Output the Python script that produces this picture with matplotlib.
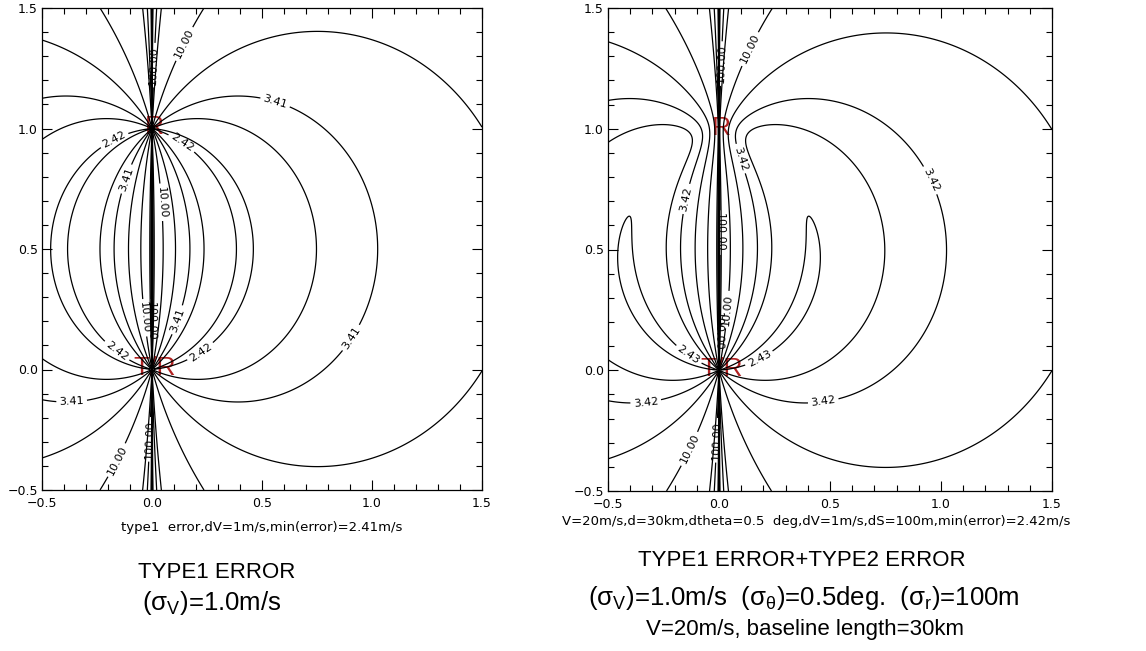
import matplotlib
import numpy as np

matplotlib.use("Agg")

import matplotlib.pyplot as plt
from matplotlib.ticker import MultipleLocator

plt.rcParams["font.family"] = ["DejaVu Sans"]
plt.rcParams["mathtext.fontset"] = "custom"
plt.rcParams["mathtext.rm"] = "Liberation Sans"
plt.rcParams["mathtext.it"] = "Liberation Sans:italic"

DV = 1.0            # Doppler velocity error, m/s
V = 20.0            # wind speed, m/s
BASELINE_KM = 30.0  # T/R -> R distance
DTHETA_DEG = 0.5    # azimuth error
DS_KM = 0.1         # range error (100 m)

STATIONS = [("T/R", 0.0, 0.0), ("R", 0.0, 1.0)]

# IDL labelled every other level
LEFT_LABELED = [2.424, 3.414, 10.0, 100.0]
LEFT_PLAIN = [2.814, 5.0, 50.0, 500.0, 1000.0]
RIGHT_LABELED = [2.43, 3.42, 10.0, 100.0]
RIGHT_PLAIN = [2.82, 5.0, 50.0, 500.0, 1000.0]

# approximate spots where the reference put its contour labels
LEFT_LABEL_SPOTS = [
    (0.14, 1.354), (0.003, 1.263), (0.56, 1.11), (-0.17, 0.95), (0.135, 0.94),
    (-0.115, 0.79), (0.044, 0.694), (-0.04, 0.214), (-0.002, 0.20), (0.112, 0.207),
    (0.218, 0.077), (-0.16, 0.077), (0.908, 0.13), (-0.365, -0.136),
    (-0.16, -0.376), (-0.005, -0.29),
]
RIGHT_LABEL_SPOTS = [
    (0.14, 1.33), (0.005, 1.27), (0.11, 0.88), (-0.15, 0.71), (0.96, 0.79),
    (0.002, 0.57), (0.05, 0.25), (-0.006, 0.16), (-0.14, 0.06), (0.18, 0.05),
    (-0.33, -0.13), (0.47, -0.13), (-0.145, -0.32), (-0.01, -0.29),
]

LEFT_XLABEL = "type1  error,dV=1m/s,min(error)=2.41m/s"
RIGHT_XLABEL = "V=20m/s,d=30km,dtheta=0.5  deg,dV=1m/s,dS=100m,min(error)=2.42m/s"

RED = "#b22222"


def error_field(xx, yy, with_type2):
    rx, ry = STATIONS[1][1] * BASELINE_KM, STATIONS[1][2] * BASELINE_KM
    px, py = xx * BASELINE_KM, yy * BASELINE_KM
    r_t = np.hypot(px, py)
    r_r = np.hypot(px - rx, py - ry)
    etx, ety = px / r_t, py / r_t
    erx, ery = (px - rx) / r_r, (py - ry) / r_r

    # monostatic row and bistatic (half-sum) row
    a, b = etx, ety
    c, d = (etx + erx) / 2, (ety + ery) / 2
    det = a * d - b * c
    i11, i12, i21, i22 = d / det, -b / det, -c / det, a / det
    err2 = DV**2 * (i11**2 + i12**2 + i21**2 + i22**2)

    if with_type2:
        # position error of the scatterer (range + azimuth from T/R)
        # turns into a pointing error of the R beam
        pos_err = np.hypot(DS_KM, r_t * np.deg2rad(DTHETA_DEG))
        dphi_r = pos_err / r_r
        # worst case wind direction: V across the R beam
        err2 = err2 + (V * dphi_r / 2) ** 2 * (i12**2 + i22**2)

    return np.nan_to_num(np.sqrt(err2), nan=1e9, posinf=1e9)


def draw_panel(ax, labeled, plain, label_spots, with_type2):
    x = np.unique(np.concatenate([np.linspace(-0.5, 1.5, 800), np.linspace(-0.06, 0.06, 480)]))
    y = np.unique(np.concatenate([np.linspace(-0.5, 1.5, 801), np.linspace(0.9013, 1.0987, 300)]))
    xx, yy = np.meshgrid(x, y)
    zz = error_field(xx, yy, with_type2)

    ax.contour(xx, yy, zz, levels=plain, colors="black", linewidths=0.9)
    cs = ax.contour(xx, yy, zz, levels=labeled, colors="black", linewidths=0.9)
    ax.clabel(cs, fmt="%.2f", fontsize=8, inline=True, inline_spacing=3, manual=label_spots)

    for name, sx, sy in STATIONS:
        ax.text(sx + 0.01, sy + 0.005, name, color=RED, fontsize=19, ha="center", va="center",
                family="Liberation Sans", zorder=1)

    ax.set_xlim(-0.5, 1.5)
    ax.set_ylim(-0.5, 1.5)
    ax.xaxis.set_major_locator(MultipleLocator(0.5))
    ax.yaxis.set_major_locator(MultipleLocator(0.5))
    ax.xaxis.set_minor_locator(MultipleLocator(0.1))
    ax.yaxis.set_minor_locator(MultipleLocator(0.1))
    ax.tick_params(which="both", direction="in", top=True, right=True, width=0.8)
    ax.tick_params(which="major", length=7, labelsize=9)
    ax.tick_params(which="minor", length=4)
    ax.tick_params(axis="x", pad=5)
    ax.tick_params(axis="y", pad=3)
    for spine in ax.spines.values():
        spine.set_linewidth(0.9)


fig = plt.figure(figsize=(11.46, 6.51), dpi=100)
left_ax = fig.add_axes([42 / 1146, 1 - 490 / 651, 440 / 1146, 482 / 651])
right_ax = fig.add_axes([608 / 1146, 1 - 491 / 651, 444 / 1146, 483 / 651])

draw_panel(left_ax, LEFT_LABELED, LEFT_PLAIN, LEFT_LABEL_SPOTS, with_type2=False)
draw_panel(right_ax, RIGHT_LABELED, RIGHT_PLAIN, RIGHT_LABEL_SPOTS, with_type2=True)

fig.text(262 / 1146, 1 - 528 / 651, LEFT_XLABEL, ha="center", va="center", fontsize=9.5)
fig.text(816 / 1146, 1 - 522 / 651, RIGHT_XLABEL, ha="center", va="center", fontsize=9.5)

big = dict(ha="center", va="center", family="Liberation Sans")
fig.text(217 / 1146, 1 - 572 / 651, "TYPE1 ERROR", fontsize=16, **big)
fig.text(212 / 1146, 1 - 603 / 651, r"(σ$_\mathrm{V}$)=1.0m/s", fontsize=18.5, **big)
fig.text(802 / 1146, 1 - 560 / 651, "TYPE1 ERROR+TYPE2 ERROR", fontsize=16, **big)
fig.text(804 / 1146, 1 - 598 / 651,
         r"(σ$_\mathrm{V}$)=1.0m/s  (σ$_\mathrm{θ}$)=0.5deg.  (σ$_\mathrm{r}$)=100m",
         fontsize=18.5, **big)
fig.text(805 / 1146, 1 - 630 / 651, "V=20m/s, baseline length=30km", fontsize=16, **big)

fig.savefig("out.png", dpi=100, facecolor="white")
